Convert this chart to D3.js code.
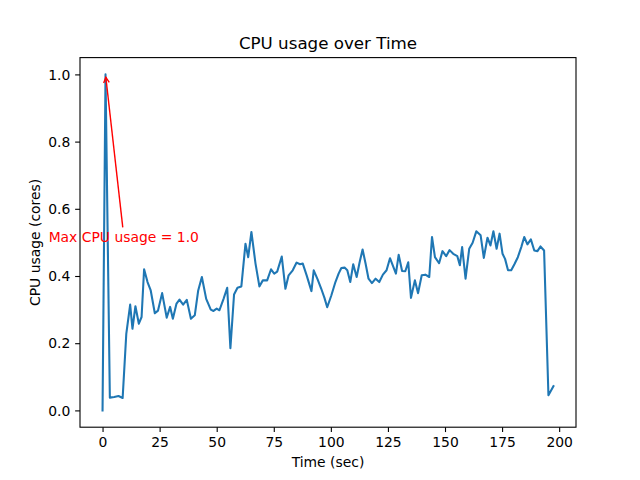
<!DOCTYPE html>
<html>
<head>
<meta charset="utf-8">
<script src="https://cdn.jsdelivr.net/npm/d3@7"></script>
<style>
html,body{margin:0;padding:0;background:#fff;}
svg{display:block;font-family:"DejaVu Sans",sans-serif;}
</style>
</head>
<body>
<svg id="chart" width="640" height="480"></svg>
<script>
const times = [0.0,1.3,3.2,5.1,7.0,8.8,10.4,12.1,13.1,14.4,15.9,17.1,18.2,19.7,21.1,22.9,24.3,26.1,28.1,29.6,30.8,32.4,33.7,35.3,36.9,38.7,40.4,41.9,43.5,45.4,47.4,48.6,50.0,51.2,53.0,54.6,56.0,57.6,59.1,60.8,62.6,63.8,65.2,67.0,68.7,70.2,72.1,73.8,75.2,76.5,78.5,80.1,81.5,83.3,85.0,86.5,87.7,89.4,91.5,92.5,94.2,95.8,97.2,98.4,100.2,102.0,103.4,104.6,106.0,107.2,108.5,109.8,111.3,112.6,113.9,115.2,116.5,118.0,119.6,121.2,122.8,124.4,125.9,128.5,129.7,131.2,132.6,133.9,135.1,136.8,138.2,139.8,141.4,143.1,144.3,145.6,147.4,148.9,150.5,152.0,153.6,155.4,156.5,157.5,159.0,160.6,162.1,163.7,165.6,167.0,168.6,169.9,171.2,172.6,173.9,175.2,176.3,177.6,179.0,180.4,181.9,183.4,184.7,186.1,187.6,189.1,190.5,191.8,193.4,195.3,197.5];
const cpu = [0.0,1.0,0.038,0.040,0.043,0.037,0.228,0.315,0.243,0.310,0.258,0.278,0.420,0.382,0.357,0.289,0.297,0.349,0.276,0.308,0.273,0.318,0.330,0.315,0.329,0.273,0.283,0.357,0.397,0.332,0.300,0.296,0.303,0.298,0.332,0.365,0.185,0.345,0.365,0.369,0.496,0.456,0.531,0.437,0.369,0.387,0.387,0.420,0.407,0.413,0.458,0.362,0.402,0.417,0.440,0.435,0.437,0.402,0.355,0.417,0.390,0.362,0.335,0.307,0.342,0.382,0.407,0.424,0.425,0.417,0.382,0.435,0.397,0.441,0.479,0.437,0.392,0.379,0.392,0.382,0.404,0.417,0.453,0.407,0.463,0.415,0.414,0.441,0.335,0.387,0.349,0.402,0.404,0.397,0.516,0.456,0.438,0.474,0.459,0.477,0.466,0.459,0.432,0.486,0.392,0.481,0.499,0.533,0.521,0.454,0.514,0.491,0.533,0.481,0.526,0.466,0.451,0.417,0.417,0.435,0.456,0.486,0.516,0.494,0.509,0.476,0.474,0.488,0.476,0.045,0.072];
const xTicks = [0,25,50,75,100,125,150,175,200];
const yTicks = [0.0,0.2,0.4,0.6,0.8,1.0];
const titleText = "CPU usage over Time";
const xLabelText = "Time (sec)";
const yLabelText = "CPU usage (cores)";
const maxIdx = cpu.indexOf(d3.max(cpu));
const annText = "Max CPU usage = " + cpu[maxIdx].toFixed(1);
const annOffset = [8, -0.5];

const W = 640, H = 480;
const L = 80, R = 576, T = 57.6, B = 427.2;
const svg = d3.select("#chart");
svg.append("rect").attr("width", W).attr("height", H).attr("fill", "#fff");

const xe = d3.extent(times), ye = d3.extent(cpu);
const xp = (xe[1]-xe[0])*0.05, yp = (ye[1]-ye[0])*0.05;
const x = d3.scaleLinear().domain([xe[0]-xp, xe[1]+xp]).range([L, R]);
const y = d3.scaleLinear().domain([ye[0]-yp, ye[1]+yp]).range([B, T]);

const fs = 13.9;
// line
const data = times.map((t,i)=>[t,cpu[i]]);
svg.append("path").datum(data)
  .attr("fill","none").attr("stroke","#1f77b4").attr("stroke-width",2.08)
  .attr("stroke-linejoin","round").attr("stroke-linecap","square")
  .attr("d", d3.line().x(d=>x(d[0])).y(d=>y(d[1])));

// axes
const xAxis = d3.axisBottom(x).tickValues(xTicks).tickFormat(d3.format("d")).tickSizeOuter(0).tickSize(4.86).tickPadding(4.86);
const yAxis = d3.axisLeft(y).tickValues(yTicks).tickFormat(d3.format(".1f")).tickSizeOuter(0).tickSize(4.86).tickPadding(4.86);
const gx = svg.append("g").attr("transform",`translate(0,${B})`).call(xAxis);
const gy = svg.append("g").attr("transform",`translate(${L},0)`).call(yAxis);
[gx,gy].forEach(g=>{
  g.select(".domain").remove();
  g.selectAll(".tick line").attr("stroke","#000").attr("stroke-width",1.1);
  g.selectAll(".tick text").attr("fill","#000").attr("font-size",fs).attr("font-family","DejaVu Sans");
});
gx.selectAll(".tick text").attr("dy","0.76em");
gy.selectAll(".tick text").attr("dy","0.34em");

// spines
svg.append("rect").attr("x",L).attr("y",T).attr("width",R-L).attr("height",B-T)
  .attr("fill","none").attr("stroke","#000").attr("stroke-width",1.1);

// title & labels
svg.append("text").attr("x",(L+R)/2).attr("y",T-8.3).attr("text-anchor","middle")
  .attr("font-size",16.7).attr("fill","#000").text(titleText);
svg.append("text").attr("x",(L+R)/2).attr("y",466.5).attr("text-anchor","middle")
  .attr("font-size",fs).attr("fill","#000").text(xLabelText);
svg.append("text").attr("transform",`translate(40,${(T+B)/2}) rotate(-90)`).attr("text-anchor","middle")
  .attr("font-size",fs).attr("fill","#000").text(yLabelText);

// annotation
const tipX = x(times[maxIdx]), tipY = y(cpu[maxIdx]);
const txX = x(times[maxIdx]+annOffset[0]), txY = y(cpu[maxIdx]+annOffset[1]);
svg.append("text").attr("x",txX).attr("y",txY).attr("text-anchor","middle")
  .attr("font-size",fs).attr("fill","red").text(annText);
const tailX = txX - 1, tailY = txY - 15;
const ang = Math.atan2(tipY - tailY, tipX - tailX);
const shrink = 2.8;
const ex = tipX - Math.cos(ang)*shrink, ey = tipY - Math.sin(ang)*shrink;
svg.append("line").attr("x1",tailX).attr("y1",tailY).attr("x2",ex).attr("y2",ey)
  .attr("stroke","red").attr("stroke-width",1.39);
const hl = 5.6, hw = 2.8;
const bx = ex - Math.cos(ang)*hl, by = ey - Math.sin(ang)*hl;
const nx = -Math.sin(ang), ny = Math.cos(ang);
svg.append("path")
  .attr("d",`M${bx+nx*hw},${by+ny*hw}L${ex},${ey}L${bx-nx*hw},${by-ny*hw}`)
  .attr("fill","none").attr("stroke","red").attr("stroke-width",1.39).attr("stroke-linejoin","miter");
</script>
</body>
</html>
